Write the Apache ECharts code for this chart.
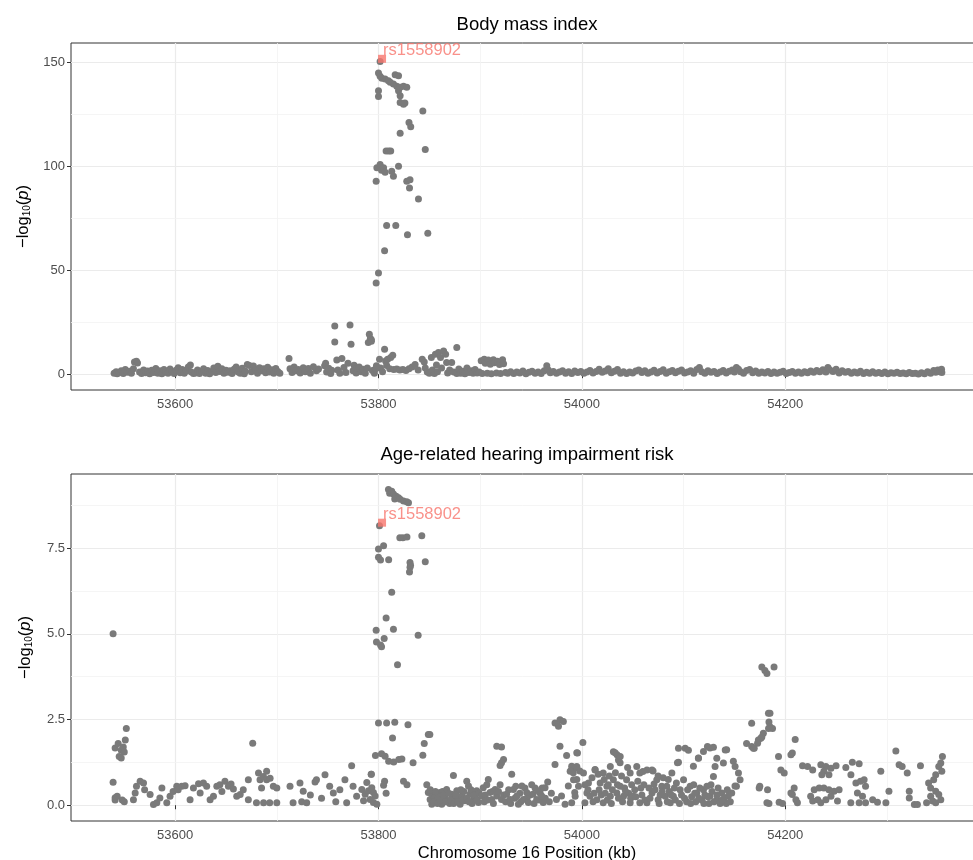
<!DOCTYPE html>
<html><head><meta charset="utf-8">
<script src="https://cdn.jsdelivr.net/npm/echarts@6/dist/echarts.min.js"></script>
<style>html,body{margin:0;padding:0;background:#fff}#c{width:973px;height:860px}</style>
</head><body><div id="c"></div>
<script>
// ---------- data ----------
const panelTitles = ['Body mass index', 'Age-related hearing impairment risk'];
const xAxisTitle = 'Chromosome 16 Position (kb)';
const xTicks = [53600, 53800, 54000, 54200];
const xMinor = [53700, 53900, 54100, 54300];
const bmiTicks = [0, 50, 100, 150];
const bmiMinor = [25, 75, 125];
const hearTicks = [0, 2.5, 5, 7.5];
const hearMinor = [1.25, 3.75, 6.25, 8.75];
const leadSnp = 'rs1558902';
const leadPos = 53803.5;
const leadBmi = 151.6;
const leadHear = 8.24;

// [position (kb), -log10(p)] for Body mass index
const bmiPoints = [
[53540,0.5],[53542,1.2],[53543,0.2],[53545,0.8],[53547,1.6],[53549,0.3],[53551,2.2],[53553,0.9],[53555,1.4],[53557,0.4],[53559,2.6],[53560,5.8],[53562,6.2],[53563,5.4],[53565,1.1],[53567,0.3],[53569,2.0],[53571,0.7],[53573,1.5],[53575,0.2],[53577,1.9],[53579,0.8],[53581,2.7],[53583,0.4],[53585,1.6],[53587,0.2],[53589,2.3],[53591,1.0],[53593,0.5],[53595,2.5],[53597,1.3],[53599,0.3],[53601,1.9],[53603,3.1],[53605,0.7],[53607,2.3],[53609,0.4],[53611,1.5],[53613,3.4],[53615,4.4],[53616,1.0],[53618,0.3],
[53620,0.6],[53622,2.0],[53624,0.3],[53626,1.4],[53628,2.6],[53630,0.5],[53632,1.8],[53634,0.2],[53636,1.2],[53638,3.0],[53640,0.8],[53642,3.8],[53644,1.3],[53646,2.6],[53648,0.4],[53650,1.9],[53652,0.9],[53654,1.6],[53656,0.3],[53658,2.4],[53660,3.5],[53662,1.0],[53664,0.5],[53666,2.8],[53668,0.2],[53669,1.4],[53671,4.6],[53673,4.2],[53675,1.2],[53677,3.9],[53679,2.1],[53681,0.5],[53683,3.1],[53685,1.6],[53687,2.6],[53689,0.7],[53691,3.3],[53693,1.1],[53695,2.1],[53697,0.5],[53699,2.7],[53701,1.3],[53703,0.4],
[53712,7.6],[53713,2.6],[53715,0.8],[53717,3.5],[53719,1.6],[53721,2.3],[53723,0.6],[53726,3.1],[53728,1.2],[53731,2.7],[53733,0.5],[53736,3.6],[53739,1.7],[53741,2.5],
[53747,4.0],[53748,5.3],[53749,1.0],[53751,2.8],[53753,0.3],[53754,1.9],[53757,23.2],[53757,15.5],[53759,6.8],[53760,2.0],[53762,0.4],[53764,7.6],[53766,3.2],[53768,0.8],[53770,5.2],[53772,23.7],[53773,14.4],[53775,1.6],[53776,4.3],[53778,0.6],[53779,2.8],[53781,3.5],[53783,1.2],[53785,2.4],[53787,0.5],[53789,3.0],[53790,15.2],[53791,19.2],[53792,17.1],[53793,16.5],[53793,15.8],[53794,1.8],[53796,0.4],[53797,2.5],[53798,4.0],
[53797.7,43.8],[53800,48.6],[53806,59.3],[53808,71.5],[53817,71.5],[53828.5,67.0],[53848.5,67.7],[53839.3,84.2],[53797.7,92.7],[53827.8,92.7],[53831,93.5],[53830.5,89.5],[53798.4,99.2],[53801.6,100.8],[53803,98.0],[53805,99.2],[53806.5,97.1],[53813,97.6],[53814.7,95.2],[53819.7,100.0],[53807.5,107.3],[53810,107.3],[53812,107.3],[53846,108.0],[53821.3,115.8],[53830,121.0],[53831.7,119.0],[53843.6,126.5],[53821.3,130.6],[53824.6,129.8],[53826,130.3],[53800,133.5],[53800,136.3],[53819.7,136.3],[53821.3,133.9],[53811.5,140.3],[53814.7,139.5],[53818,138.4],[53821.3,137.9],[53824.6,138.4],[53827.8,137.9],[53816.4,143.9],[53819.7,143.5],[53803.3,142.3],[53806.5,141.9],[53809.8,141.1],[53801.6,143.2],[53800,144.8],[53801.6,150.3],
[53801,7.2],[53802,3.0],[53804,1.2],[53806,12.0],[53807,6.4],[53808,4.2],[53809,7.2],[53811,2.6],[53812,8.0],[53814,9.1],[53815,2.2],[53818,2.5],[53821,2.0],[53824,2.3],[53827,1.8],[53830,2.6],[53833,3.5],[53836,4.6],[53839,2.0],[53843,7.2],[53845,5.9],[53846,3.0],[53848,1.0],
[53850,0.5],[53852,8.0],[53853,2.0],[53855,0.3],[53856,9.6],[53857,4.4],[53858,1.2],[53859,10.4],[53861,8.0],[53862,3.0],[53864,11.2],[53866,9.6],[53867,5.6],[53868,0.6],[53870,2.0],[53872,5.6],[53874,1.0],[53877,12.8],[53877,0.3],[53879,2.5],[53881,0.5],[53883,1.4],[53885,0.2],[53887,3.0],[53889,0.8],[53891,1.6],[53893,0.4],[53895,2.2],[53897,0.6],[53899,1.0],
[53901,6.5],[53902,0.3],[53904,7.2],[53905,5.2],[53907,0.5],[53908,6.8],[53910,4.8],[53911,0.2],[53913,7.0],[53914,5.5],[53916,0.6],[53917,6.2],[53919,4.6],[53920,0.3],[53922,6.9],[53923,5.0],[53925,0.8],
[53927,0.4],[53930,1.2],[53933,0.3],[53936,1.0],[53939,0.6],[53942,1.5],[53945,0.2],[53948,0.9],[53951,1.4],[53954,0.5],[53957,1.1],[53960,0.3],[53963,1.6],[53965.5,4.0],[53967,2.0],[53969,0.7],[53972,1.3],[53975,0.4],[53978,1.0],[53981,1.6],[53984,0.5],[53987,1.2],[53990,0.3],[53993,1.5],[53996,0.8],[53999,1.3],
[54002,0.4],[54005,1.0],[54008,1.8],[54011,0.6],[54014,1.3],[54017,2.4],[54020,0.9],[54023,1.5],[54026,2.6],[54029,0.7],[54032,1.4],[54035,2.2],[54038,0.5],[54041,1.2],[54044,0.3],[54047,1.0],[54050,0.6],[54053,1.5],[54056,2.0],[54059,0.8],[54062,1.6],[54065,0.4],[54068,1.1],[54071,1.9],[54074,0.6],[54077,1.3],[54080,2.1],[54083,0.5],[54086,1.2],[54089,1.8],[54092,0.7],[54095,1.4],[54098,2.0],
[54101,0.6],[54104,1.0],[54107,1.7],[54110,0.4],[54113,2.2],[54115.6,3.2],[54118,1.2],[54121,0.5],[54124,1.6],[54127,0.9],[54130,1.3],[54133,0.3],[54136,1.1],[54139,1.8],[54142,0.6],[54145,1.4],[54148,2.0],[54150,1.0],[54152,3.2],[54154,2.4],[54156,1.2],[54159,0.5],[54162,1.8],[54165,2.2],[54168,0.7],[54171,1.5],[54174,0.4],[54177,1.0],[54180,0.6],[54183,1.3],[54186,0.3],[54189,1.1],[54192,0.5],[54195,0.9],[54198,1.4],
[54201,0.3],[54204,0.8],[54207,1.3],[54210,0.5],[54213,1.0],[54216,0.4],[54219,1.2],[54222,0.7],[54225,1.5],[54228,0.9],[54231,1.8],[54234,1.2],[54237,2.1],[54240,1.0],[54242,3.2],[54244,2.0],[54247,1.3],[54250,2.4],[54253,0.6],[54256,1.7],[54259,0.9],[54262,1.3],[54265,0.4],[54268,1.1],[54271,0.6],[54274,1.4],[54277,0.3],[54280,0.9],[54283,0.5],[54286,1.2],[54289,0.4],[54292,0.8],[54295,0.3],[54298,1.0],
[54301,0.2],[54304,0.7],[54307,0.4],[54310,0.9],[54313,0.3],[54316,0.6],[54319,0.2],[54322,0.8],[54325,0.3],[54328,0.5],[54331,0.1],[54334,0.7],[54337,0.2],[54340,1.2],[54343,0.5],[54346,1.8],[54348,0.9],[54350,2.0],[54352,1.2],[54353.7,2.4],[54354,0.8]
];

// [position (kb), -log10(p)] for Age-related hearing impairment risk
const hearingPoints = [
[53539,5.0],[53539,0.67],[53541,0.22],[53541,0.15],[53543,0.26],[53541,1.67],[53544,1.8],[53545,1.42],[53547,1.6],[53549,1.7],[53550,1.55],[53551,1.9],[53552,2.24],[53547,1.38],[53548,0.15],[53550,0.1],
[53559,0.16],[53560.7,0.36],[53562,0.55],[53565.6,0.7],[53568.9,0.65],[53570,0.45],[53575.4,0.31],[53578.7,0.02],[53582,0.07],[53585,0.21],[53587,0.5],[53591.8,0.07],[53595,0.26],[53598,0.4],[53601.6,0.55],[53603,0.45],[53606.5,0.55],[53609.8,0.57],[53614.7,0.16],[53618,0.5],[53623,0.63],[53624.6,0.36],[53627.8,0.65],[53631,0.55],[53634.4,0.16],[53637.7,0.26],[53641,0.55],[53644,0.6],[53646,0.4],[53649,0.7],[53652.4,0.55],[53655,0.62],[53657.3,0.47],[53660.6,0.26],[53664,0.31],[53667,0.45],[53672,0.74],[53676.3,1.81],[53672,0.16],[53682,0.94],[53683.5,0.74],[53686.8,0.84],[53690,0.74],[53690,0.99],[53693.4,0.79],[53696.6,0.55],[53700,0.5],[53685,0.5],[53680,0.07],[53687,0.07],[53693,0.07],[53700,0.07],
[53713,0.55],[53716,0.07],[53722.8,0.65],[53724.5,0.1],[53726,0.41],[53729.4,0.07],[53733,0.3],[53737.6,0.68],[53739,0.74],[53744,0.2],[53747.4,0.89],[53752,0.55],[53755.6,0.36],[53758,0.1],[53762,0.45],[53767,0.74],[53768.7,0.07],[53773.6,1.15],[53775,0.55],[53778.5,0.26],
[53783.6,0.46],[53786.9,0.32],[53790.2,0.42],[53793.4,0.51],[53795,0.37],[53796.7,0.27],[53791.8,0.17],[53785.3,0.13],[53795,0.08],[53798.4,0.03],[53792.8,0.9],[53788.5,0.66],
[53809.8,9.21],[53811,9.1],[53813,9.16],[53814.7,9.08],[53816,8.93],[53817.4,9.01],[53819.7,8.97],[53821.3,8.92],[53824.6,8.87],[53827.8,8.85],[53829.5,8.82],[53801,8.15],[53821,7.8],[53824,7.8],[53828,7.82],[53842.6,7.86],[53800,7.47],[53805,7.57],[53800,7.23],[53802,7.15],[53810,7.16],[53831,7.08],[53831,6.94],[53830.5,6.8],[53831.5,7.0],[53846,7.1],[53813,6.21],[53807.5,5.46],[53797.7,5.1],[53814.7,5.13],[53798,4.76],[53802,4.67],[53805.6,4.86],[53803,4.62],[53839,4.96],[53818.7,4.1],
[53800,2.4],[53808,2.4],[53816,2.42],[53829,2.35],[53813.8,1.96],[53845,1.8],[53849,2.06],[53850.5,2.06],[53843.6,1.46],[53797,1.45],[53803,1.5],[53806.5,1.43],[53810,1.28],[53815,1.26],[53820,1.33],[53823,1.35],[53834,1.24],[53793,0.9],[53806,0.7],[53805,0.58],[53807.5,0.35],[53824.6,0.7],[53828,0.6],[53847.5,0.6],
[53849,0.37],[53850.8,0.17],[53852.4,0.03],[53853,0.3],[53855.7,0.27],[53857.3,0.13],[53859,0.2],[53860.6,0.37],[53862.2,0.03],[53863,0.4],[53865.5,0.22],[53867,0.46],[53868.8,0.13],[53870,0.05],[53872,0.32],[53873.7,0.87],[53875.3,0.17],[53877,0.42],[53879,0.25],[53880.3,0.03],[53882,0.27],[53884,0.4],[53885,0.13],[53886.8,0.7],[53888.5,0.56],[53890,0.32],[53892,0.05],[53893.4,0.17],[53895,0.25],[53896.6,0.42],[53898.3,0.08],
[53851,0.45],[53854,0.1],[53856,0.4],[53858,0.05],[53861,0.15],[53864,0.3],[53866,0.1],[53869,0.35],[53871,0.15],[53874,0.05],[53876,0.3],[53878,0.1],[53881,0.45],[53883,0.15],[53887,0.2],[53889,0.1],[53891,0.45],[53894,0.3],[53897,0.15],[53899,0.35],
[53901.6,0.27],[53903,0.51],[53906.5,0.6],[53908,0.75],[53909.7,0.37],[53911.4,0.17],[53914.7,0.46],[53916.3,0.27],[53919.6,0.6],[53921,0.17],[53916.3,1.72],[53921,1.7],[53923,1.33],[53921,1.24],[53919.6,1.16],
[53904,0.1],[53905,0.3],[53907,0.15],[53912,0.4],[53913,0.05],[53918,0.4],[53923,0.3],[53925,0.1],[53928,0.45],[53930,0.05],[53934,0.2],[53935,0.55],[53939,0.35],[53940,0.1],[53944,0.5],[53946,0.2],[53949,0.3],[53953,0.05],[53954,0.5],[53958,0.15],[53959,0.35],[53961,0.5],[53964,0.2],[53968,0.1],[53970,0.35],
[53931,0.9],[53926,0.32],[53929.4,0.17],[53932.7,0.46],[53936,0.27],[53937.6,0.03],[53941,0.56],[53942.5,0.17],[53945.8,0.37],[53947.4,0.08],[53950.7,0.6],[53952,0.32],[53955.6,0.17],[53957,0.42],[53960.5,0.27],[53962,0.08],[53963.8,0.51],[53966.4,0.68],
[53973.6,2.4],[53978.5,2.49],[53981.8,2.44],[53977,2.3],[53978.5,1.72],[53973.6,1.19],[53985,1.45],[53975,0.17],[53980,0.27],[53983.5,0.03],[53986.7,0.56],[53990,1.04],[53991.6,0.95],[53995,0.75],[53993,0.37],[53995,1.53],[53990,1.14],[53995,1.09],[53998,1.0],[53988.5,0.99],[53991.8,0.74],[53995,1.13],[53996.7,0.55],[53993.4,0.26],[53990,0.07],
[54001,1.83],[53995.7,1.52],[54001.6,0.94],[54005,0.36],[54006.5,0.65],[54003,0.07],[54031,1.56],[54034.6,1.47],[54036,1.32],[54037.7,1.42],
[54013,1.03],[54021,0.94],[54028,1.13],[54018,0.65],[54024.6,0.55],[54031,0.74],[54037.7,0.55],[54044,0.74],[54047.5,0.94],[54054,1.13],[54057,0.94],[54064,1.03],[54069,1.03],[54073.7,0.74],[54078.6,0.55],[54083.5,0.55],[54088.5,0.94],[54093,0.65],[54096.6,0.45],[54008,0.26],[54014.7,0.16],[54021,0.07],[54028,0.26],[54034.4,0.36],[54041,0.26],[54047.5,0.07],[54050.8,0.26],[54057,0.07],[54064,0.07],[54069,0.36],[54075,0.16],[54082,0.26],[54087,0.07],[54090,0.26],
[54095,1.66],[54101.6,1.66],[54104.8,1.6],[54095,1.25],[54100,0.74],[54106.5,0.55],[54113,0.36],[54119.6,0.45],[54126,0.26],[54132.7,0.16],[54137.6,0.36],
[54114.7,1.37],[54119.6,1.57],[54123.5,1.71],[54129.4,1.69],[54132.7,1.37],[54131,1.13],[54129.4,0.84],[54139.2,1.23],[54141,1.61],[54149,1.28],[54150.7,1.13],[54154,0.94],[54155.6,0.74],[54152,0.55],[54147.4,0.36],
[54013,1.04],[54032.7,1.53],[54037.6,1.24],[54045,1.1],[54060,0.98],[54070,1.0],[54075,0.85],[54085,0.75],[54094,1.24],[54109.7,1.14],[54114.6,1.38],[54126,1.67],[54142.4,1.62],[54144,0.27],[54150.6,0.56],
[54003,0.6],[54006,0.45],[54010,0.8],[54012,0.35],[54016,0.9],[54019,0.3],[54022,0.75],[54025,0.15],[54027,0.85],[54030,0.45],[54033,0.95],[54036,0.2],[54039,0.85],[54042,0.5],[54046,0.35],[54049,0.6],[54052,0.45],[54055,0.7],[54059,0.3],[54061,0.6],[54066,0.5],[54071,0.62],[54077,0.3],[54080,0.8],[54086,0.4],[54091,0.5],[54098,0.3],[54103,0.1],[54104,0.45],[54108,0.25],[54110,0.6],[54112,0.1],[54116,0.5],[54118,0.15],[54121,0.3],[54123,0.55],[54125,0.05],[54128,0.4],[54130,0.1],[54134,0.5],[54136,0.05],[54140,0.2],[54142,0.05],[54146,0.1],
[54011,0.1],[54017,0.45],[54023,0.35],[54026,0.6],[54029,0.05],[54035,0.6],[54040,0.1],[54043,0.4],[54048,0.2],[54053,0.25],[54058,0.5],[54062,0.15],[54067,0.2],[54072,0.45],[54076,0.05],[54079,0.4],[54084,0.1],[54088,0.3],[54092,0.15],[54096,0.05],[54101,0.2],[54107,0.05],[54111,0.35],[54115,0.2],[54120,0.05],[54124,0.25],[54127,0.6],[54133,0.3],[54138,0.15],[54143,0.45],
[54162,1.8],[54167,1.71],[54168.7,1.66],[54173.6,1.9],[54177,1.99],[54178.5,2.1],[54167,2.39],[54177,4.03],[54180,3.93],[54182,3.84],[54183.5,2.68],[54175,0.55],[54182,0.07],
[54189,4.03],[54185,2.68],[54184,2.43],[54185,2.29],[54187.5,2.24],[54183.6,2.24],[54176,1.95],[54172.8,1.81],[54169.5,1.66],[54209.8,1.92],[54207,1.52],[54205.6,1.47],[54193.4,1.42],[54195.7,1.03],[54199,0.94],
[54217,1.15],[54222,1.13],[54227,1.03],[54235,1.18],[54240,1.13],[54245,1.08],[54250,1.15],[54238,0.99],[54243,0.89],[54236,0.89],[54259.6,1.1],[54266,1.25],[54272.7,1.21],[54264.6,0.89],[54294,0.99],[54308.8,1.58],[54312,1.18],[54315,1.13],[54320,0.94],[54333,1.15],[54354.6,1.42],[54353,1.23],[54351,1.13],
[54354,0.99],[54348,0.89],[54346,0.74],[54341,0.65],[54343,0.5],[54348,0.41],[54351,0.31],[54343,0.26],[54345,0.12],[54348,0.07],[54353,0.16],[54339,0.07],
[54174.4,0.5],[54182.6,0.45],[54184,0.05],[54194,0.09],[54197.4,0.05],[54207,0.31],[54205.6,0.36],[54208.8,0.5],[54212,0.07],[54210.5,0.16],
[54225,0.26],[54228.5,0.45],[54233.4,0.5],[54238,0.5],[54243,0.45],[54248,0.41],[54253,0.45],[54227,0.12],[54232,0.16],[54235,0.07],[54240,0.16],[54245,0.26],[54251.4,0.12],
[54269.5,0.65],[54274,0.7],[54279,0.55],[54277.6,0.74],[54271,0.36],[54276,0.26],[54264.5,0.07],[54272.7,0.07],[54279,0.07],[54286,0.16],[54290.7,0.09],[54299,0.07],[54302,0.41],
[54322,0.41],[54322,0.21],[54327,0.02],[54330,0.02]
];

// ---------- chart ----------
const FONT = '"Liberation Sans", Arial, sans-serif';
const GREY = '#7a7a7a';
const LEAD = '#F8766D';
const X_MIN = 53497.6, X_MAX = 54394.5;

function xAxisCfg(gridIndex, withName) {
  const a = {
    type: 'value', gridIndex, min: X_MIN, max: X_MAX,
    axisLine: { show: false },
    axisTick: { show: true, customValues: xTicks, length: 4, lineStyle: { color: '#333', width: 1 } },
    axisLabel: { customValues: xTicks, color: '#4d4d4d', fontSize: 13, margin: 8, fontFamily: FONT, formatter: v => String(v) },
    splitLine: { show: true, lineStyle: { color: '#ebebeb', width: 1.2 } }
  };
  if (withName) {
    a.name = xAxisTitle; a.nameLocation = 'middle'; a.nameGap = 24;
    a.nameTextStyle = { fontSize: 16.5, color: '#000', fontFamily: FONT };
  }
  return a;
}
function yAxisCfg(gridIndex, min, max, ticks, fmt) {
  return {
    type: 'value', gridIndex, min, max,
    axisLine: { show: false },
    axisTick: { show: true, customValues: ticks, length: 4, lineStyle: { color: '#333', width: 1 } },
    axisLabel: { customValues: ticks, color: '#4d4d4d', fontSize: 13, margin: 6, fontFamily: FONT, formatter: fmt },
    splitLine: { show: true, lineStyle: { color: '#ebebeb', width: 1.2 } },
    name: '{n|\u2212log}{s|10}{n|(}{i|p}{n|)}',
    nameLocation: 'middle', nameGap: 37,
    nameTextStyle: {
      fontFamily: FONT, color: '#000',
      rich: {
        n: { fontSize: 16.5, color: '#000', fontFamily: FONT },
        s: { fontSize: 10, color: '#000', fontFamily: FONT, verticalAlign: 'bottom', padding: [8, 0, 0, 0] },
        i: { fontSize: 16.5, color: '#000', fontFamily: FONT, fontStyle: 'italic' }
      }
    }
  };
}
function minorLines(xIdx, yIdx, yMinor) {
  return {
    type: 'scatter', xAxisIndex: xIdx, yAxisIndex: yIdx, data: [], z: 1, silent: true,
    markLine: {
      z: 1, silent: true, symbol: 'none', label: { show: false },
      lineStyle: { color: '#f3f3f3', width: 0.8, type: 'solid' },
      emphasis: { disabled: true },
      data: xMinor.map(v => ({ xAxis: v })).concat(yMinor.map(v => ({ yAxis: v })))
    }
  };
}
function pointsSeries(xIdx, yIdx, pts) {
  return {
    type: 'scatter', xAxisIndex: xIdx, yAxisIndex: yIdx, data: pts, z: 3,
    symbol: 'circle', symbolSize: 7, itemStyle: { color: GREY, opacity: 1 }, silent: true
  };
}
function leadSeries(xIdx, yIdx, val) {
  return {
    type: 'scatter', xAxisIndex: xIdx, yAxisIndex: yIdx, data: [[leadPos, val]], z: 5,
    symbol: 'rect', symbolSize: 8, itemStyle: { color: LEAD }, silent: true,
    label: { show: true, formatter: leadSnp, position: 'right', distance: 0, offset: [-3, -8],
      color: LEAD, fontSize: 16.5, fontFamily: FONT }
  };
}

const chart = echarts.init(document.getElementById('c'), null, { renderer: 'canvas' });
chart.setOption({
  animation: false,
  backgroundColor: '#fff',
  textStyle: { fontFamily: FONT },
  graphic: [
    { type: 'text', x: 527, y: 25, style: { text: panelTitles[0], fontSize: 18.5, fontFamily: FONT, fill: '#000', align: 'center', verticalAlign: 'middle' } },
    { type: 'text', x: 527, y: 455, style: { text: panelTitles[1], fontSize: 18.5, fontFamily: FONT, fill: '#000', align: 'center', verticalAlign: 'middle' } }
  ],
  grid: [
    { left: 71, top: 43, width: 912, height: 347, show: true, borderColor: '#333', borderWidth: 1, backgroundColor: 'transparent', containLabel: false, outerBoundsMode: 'none' },
    { left: 71, top: 474, width: 912, height: 347, show: true, borderColor: '#333', borderWidth: 1, backgroundColor: 'transparent', containLabel: false, outerBoundsMode: 'none' }
  ],
  xAxis: [xAxisCfg(0, false), xAxisCfg(1, true)],
  yAxis: [
    yAxisCfg(0, -7.6, 159.2, bmiTicks, v => String(v)),
    yAxisCfg(1, -0.46, 9.66, hearTicks, v => v.toFixed(1))
  ],
  series: [
    minorLines(0, 0, bmiMinor),
    minorLines(1, 1, hearMinor),
    pointsSeries(0, 0, bmiPoints),
    pointsSeries(1, 1, hearingPoints),
    leadSeries(0, 0, leadBmi),
    leadSeries(1, 1, leadHear)
  ]
});
</script>
</body></html>
